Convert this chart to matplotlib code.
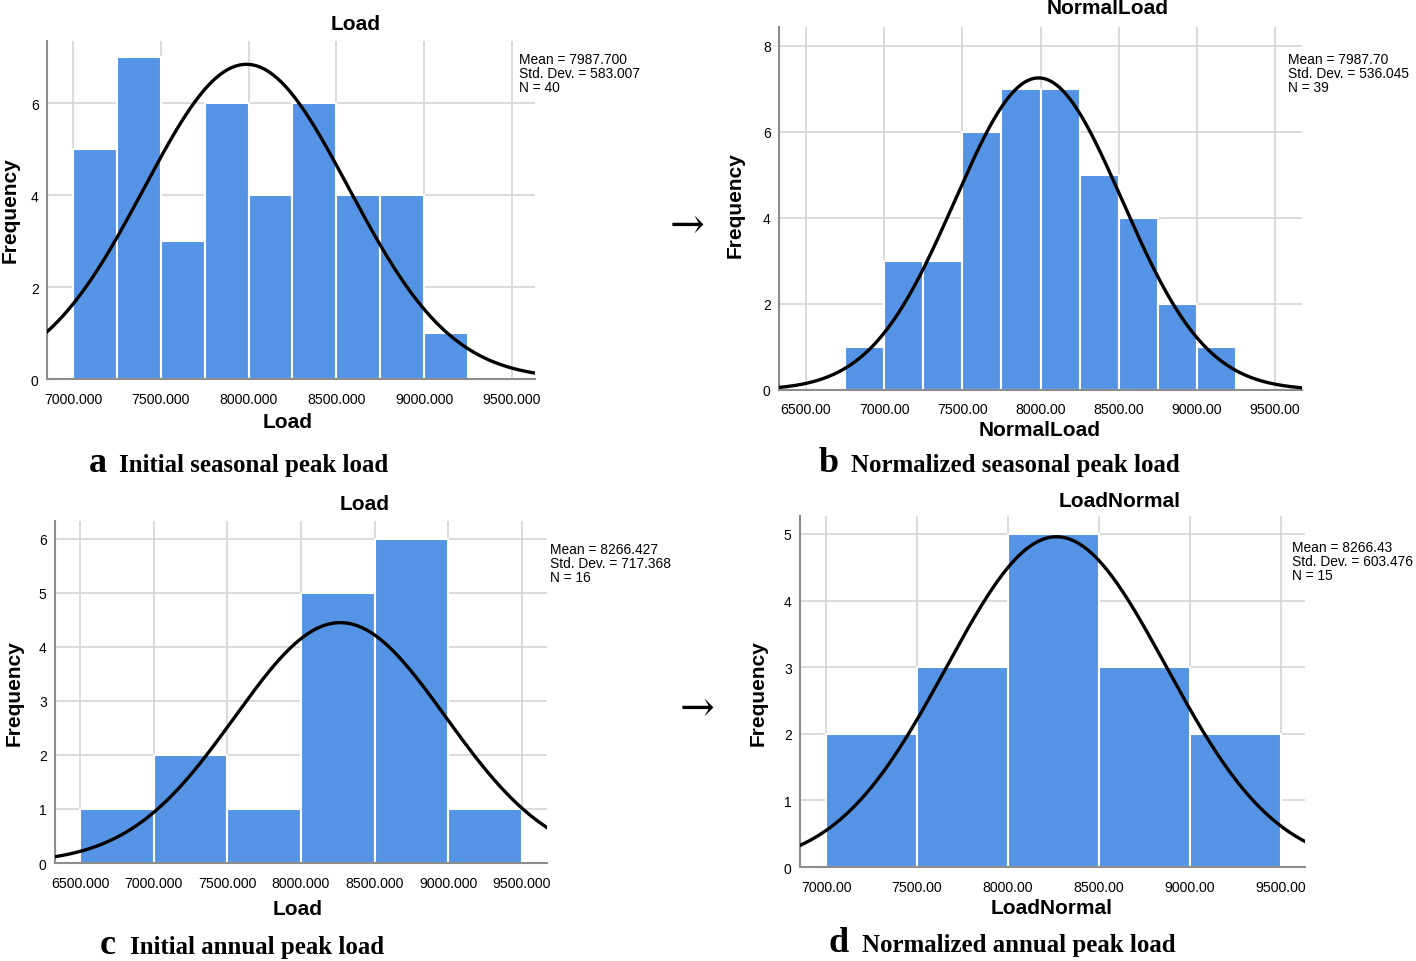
import numpy as np
import matplotlib
matplotlib.use("Agg")
import matplotlib.pyplot as plt

W, H = 1416, 962

# ---- data ----
a_left = [7000, 7250, 7500, 7750, 8000, 8250, 8500, 8750, 9000]
a_counts = [5, 7, 3, 6, 4, 6, 4, 4, 1]
a_width = 250
a_mean, a_sd, a_n = 7987.700, 583.007, 40

b_left = [6750, 7000, 7250, 7500, 7750, 8000, 8250, 8500, 8750, 9000]
b_counts = [1, 3, 3, 6, 7, 7, 5, 4, 2, 1]
b_width = 250
b_mean, b_sd, b_n = 7987.70, 536.045, 39

c_left = [6500, 7000, 7500, 8000, 8500, 9000]
c_counts = [1, 2, 1, 5, 6, 1]
c_width = 500
c_mean, c_sd, c_n = 8266.427, 717.368, 16

d_left = [7000, 7500, 8000, 8500, 9000]
d_counts = [2, 3, 5, 3, 2]
d_width = 500
d_mean, d_sd, d_n = 8266.43, 603.476, 15

a_xticks = [7000, 7500, 8000, 8500, 9000, 9500]
b_xticks = [6500, 7000, 7500, 8000, 8500, 9000, 9500]
c_xticks = [6500, 7000, 7500, 8000, 8500, 9000, 9500]
d_xticks = [7000, 7500, 8000, 8500, 9000, 9500]
a_yticks = [0, 2, 4, 6]
b_yticks = [0, 2, 4, 6, 8]
c_yticks = [0, 1, 2, 3, 4, 5, 6]
d_yticks = [0, 1, 2, 3, 4, 5]

a_stats = "Mean = 7987.700\nStd. Dev. = 583.007\nN = 40"
b_stats = "Mean = 7987.70\nStd. Dev. = 536.045\nN = 39"
c_stats = "Mean = 8266.427\nStd. Dev. = 717.368\nN = 16"
d_stats = "Mean = 8266.43\nStd. Dev. = 603.476\nN = 15"

titles = ["Load", "NormalLoad", "Load", "LoadNormal"]
xlabels = ["Load", "NormalLoad", "Load", "LoadNormal"]
cap_letters = ["a", "b", "c", "d"]
cap_texts = ["Initial seasonal peak load", "Normalized seasonal peak load",
             "Initial annual peak load", "Normalized annual peak load"]

BAR = "#5594E4"
GRID = "#d4d4d4"
SPINE = "#8c8c8c"
SANS = "Liberation Sans"
SERIF = "Liberation Serif"

fig = plt.figure(figsize=(W / 100, H / 100), dpi=100)


def px_rect(l, r, t, b):
    return [l / W, 1 - b / H, (r - l) / W, (b - t) / H]


def fx(x):
    return x / W


def fy(y):
    return 1 - y / H


panels = [
    dict(rect=px_rect(47, 535, 42, 380), left=a_left, counts=a_counts, width=a_width,
         mean=a_mean, sd=a_sd, n=a_n, xlim=(6852, 9631), ylim=(0, 7.35),
         xticks=a_xticks, yticks=a_yticks, fmt="{:.3f}", stats=a_stats, spos=(519, 53),
         title=(356, 24), xl=(288, 423), yl=(10, 210),
         cap=(89, 119, 472)),
    dict(rect=px_rect(779, 1302, 28, 391), left=b_left, counts=b_counts, width=b_width,
         mean=b_mean, sd=b_sd, n=b_n, xlim=(6327, 9673), ylim=(0, 8.44),
         xticks=b_xticks, yticks=b_yticks, fmt="{:.2f}", stats=b_stats, spos=(1288, 53),
         title=(1108, 9), xl=(1040, 431), yl=(735, 205),
         cap=(819, 851, 472)),
    dict(rect=px_rect(55, 547, 522, 864), left=c_left, counts=c_counts, width=c_width,
         mean=c_mean, sd=c_sd, n=c_n, xlim=(6330, 9670), ylim=(0, 6.33),
         xticks=c_xticks, yticks=c_yticks, fmt="{:.3f}", stats=c_stats, spos=(550, 543),
         title=(365, 505), xl=(298, 910), yl=(14, 693),
         cap=(100, 130, 954)),
    dict(rect=px_rect(800, 1305, 517, 868), left=d_left, counts=d_counts, width=d_width,
         mean=d_mean, sd=d_sd, n=d_n, xlim=(6857, 9632), ylim=(0, 5.27),
         xticks=d_xticks, yticks=d_yticks, fmt="{:.2f}", stats=d_stats, spos=(1292, 541),
         title=(1120, 502), xl=(1052, 908), yl=(758, 693),
         cap=(829, 862, 952)),
]

for i, p in enumerate(panels):
    ax = fig.add_axes(p["rect"])
    ax.set_xlim(*p["xlim"])
    ax.set_ylim(*p["ylim"])
    ax.set_axisbelow(True)
    ax.grid(True, color=GRID, lw=1.2)
    ax.bar(p["left"], p["counts"], width=p["width"], align="edge",
           color=BAR, edgecolor="white", linewidth=1.5, zorder=2)
    xs = np.linspace(p["xlim"][0], p["xlim"][1], 400)
    ys = p["n"] * p["width"] / (p["sd"] * np.sqrt(2 * np.pi)) * np.exp(-0.5 * ((xs - p["mean"]) / p["sd"]) ** 2)
    ax.plot(xs, ys, color="black", lw=2.4, zorder=3, clip_on=True)
    ax.set_xticks(p["xticks"])
    ax.set_xticklabels([p["fmt"].format(v) for v in p["xticks"]], fontfamily=SANS, fontsize=10.2)
    ax.set_yticks(p["yticks"])
    ax.set_yticklabels([str(v) for v in p["yticks"]], fontfamily=SANS, fontsize=10)
    ax.tick_params(axis="x", length=0, pad=9, colors="black")
    ax.tick_params(axis="y", length=0, pad=6, colors="black")
    for s in ["top", "right"]:
        ax.spines[s].set_visible(False)
    for s in ["left", "bottom"]:
        ax.spines[s].set_color(SPINE)
        ax.spines[s].set_linewidth(1.5)
    # stats text
    fig.text(fx(p["spos"][0]), fy(p["spos"][1]), p["stats"], fontfamily=SANS,
             fontsize=9.9, ha="left", va="top", linespacing=1.0)
    # title and labels
    fig.text(fx(p["title"][0]), fy(p["title"][1]), titles[i], fontfamily=SANS,
             fontsize=15, fontweight="bold", ha="center", va="center")
    fig.text(fx(p["xl"][0]), fy(p["xl"][1]), xlabels[i], fontfamily=SANS,
             fontsize=15, fontweight="bold", ha="center", va="center")
    fig.text(fx(p["yl"][0]), fy(p["yl"][1]), "Frequency", fontfamily=SANS,
             fontsize=15, fontweight="bold", ha="center", va="center", rotation=90)
    # caption
    lx, tx, by = p["cap"]
    fig.text(fx(lx), fy(by), cap_letters[i], fontfamily=SERIF, fontsize=26,
             fontweight="bold", ha="left", va="baseline")
    fig.text(fx(tx), fy(by), cap_texts[i], fontfamily=SERIF, fontsize=17.9,
             fontweight="bold", ha="left", va="baseline")

# arrows between panels
fig.text(fx(687), fy(226), "\u2192", fontfamily="DejaVu Serif", fontsize=30,
         ha="center", va="center")
fig.text(fx(697), fy(709), "\u2192", fontfamily="DejaVu Serif", fontsize=30,
         ha="center", va="center")

fig.savefig("out.png", dpi=100)
